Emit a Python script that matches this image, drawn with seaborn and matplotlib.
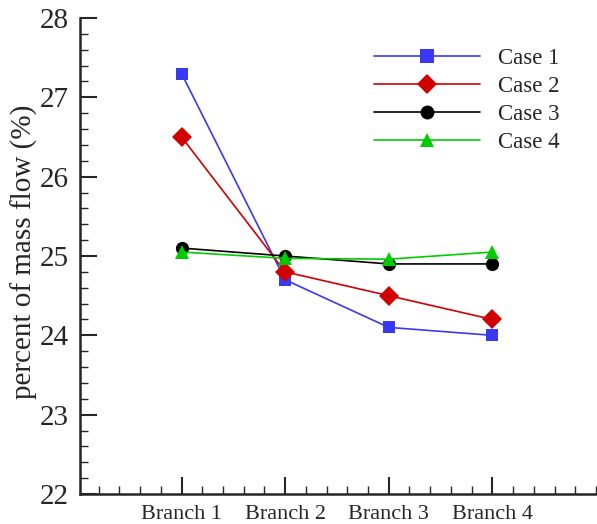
import pandas as pd
import matplotlib
matplotlib.use('Agg')
import matplotlib.pyplot as plt
from matplotlib.ticker import MultipleLocator
import seaborn as sns

branches = ['Branch 1', 'Branch 2', 'Branch 3', 'Branch 4']
case1 = [27.3, 24.7, 24.1, 24.0]
case2 = [26.5, 24.8, 24.5, 24.2]
case3 = [25.1, 25.0, 24.9, 24.9]
case4 = [25.05, 24.97, 24.96, 25.05]
cases = ['Case 1', 'Case 2', 'Case 3', 'Case 4']

rows = []
for name, vals in zip(cases, [case1, case2, case3, case4]):
    for b, v in zip(branches, vals):
        rows.append({'branch': b, 'value': v, 'case': name})
df = pd.DataFrame(rows)

sns.set_style('ticks')
plt.rcParams['font.family'] = ['Liberation Serif', 'DejaVu Serif']

colors = {'Case 1': '#3838f5', 'Case 2': '#d00000', 'Case 3': '#000000', 'Case 4': '#00cc00'}
marks = {'Case 1': 's', 'Case 2': 'D', 'Case 3': 'o', 'Case 4': '^'}
msize = {'Case 1': 9, 'Case 2': 10.5, 'Case 3': 9.5, 'Case 4': 10}

fig = plt.figure(figsize=(5.97, 5.24), dpi=100)
ax = fig.add_axes([80/597, 30/524, 516/597, 476/524])

sns.lineplot(data=df, x='branch', y='value', hue='case', style='case',
             palette=colors, markers=marks, dashes=False, linewidth=1.2,
             markersize=10, markeredgewidth=0, ax=ax, sort=False)

for line, c in zip(ax.get_lines(), cases):
    line.set_markersize(msize[c])

ax.set_xlim(-0.98, 4.0)
ax.set_ylim(22, 28)
ax.set_xlabel('')
ax.set_ylabel('percent of mass flow (%)', fontsize=21)
ax.yaxis.set_label_coords(-0.082, 0.508)
ax.xaxis.set_minor_locator(MultipleLocator(0.2))
ax.yaxis.set_minor_locator(MultipleLocator(0.2))
ax.set_yticks([22, 23, 24, 25, 26, 27, 28])
ax.tick_params(axis='y', which='major', direction='in', length=12, width=1.5, labelsize=21, pad=8)
ax.tick_params(axis='x', which='major', direction='in', length=12, width=1.5, labelsize=16, pad=8)
ax.tick_params(which='minor', direction='in', length=6, width=1.0)
for s in ['top', 'right']:
    ax.spines[s].set_visible(False)
for s in ['left', 'bottom']:
    ax.spines[s].set_linewidth(1.8)

ax.legend(frameon=False, fontsize=16.5, loc='upper left', bbox_to_anchor=(0.53, 0.98),
          handlelength=4.6, handletextpad=0.8, labelspacing=0.3, title=None)

fig.savefig('out.png', dpi=100)
